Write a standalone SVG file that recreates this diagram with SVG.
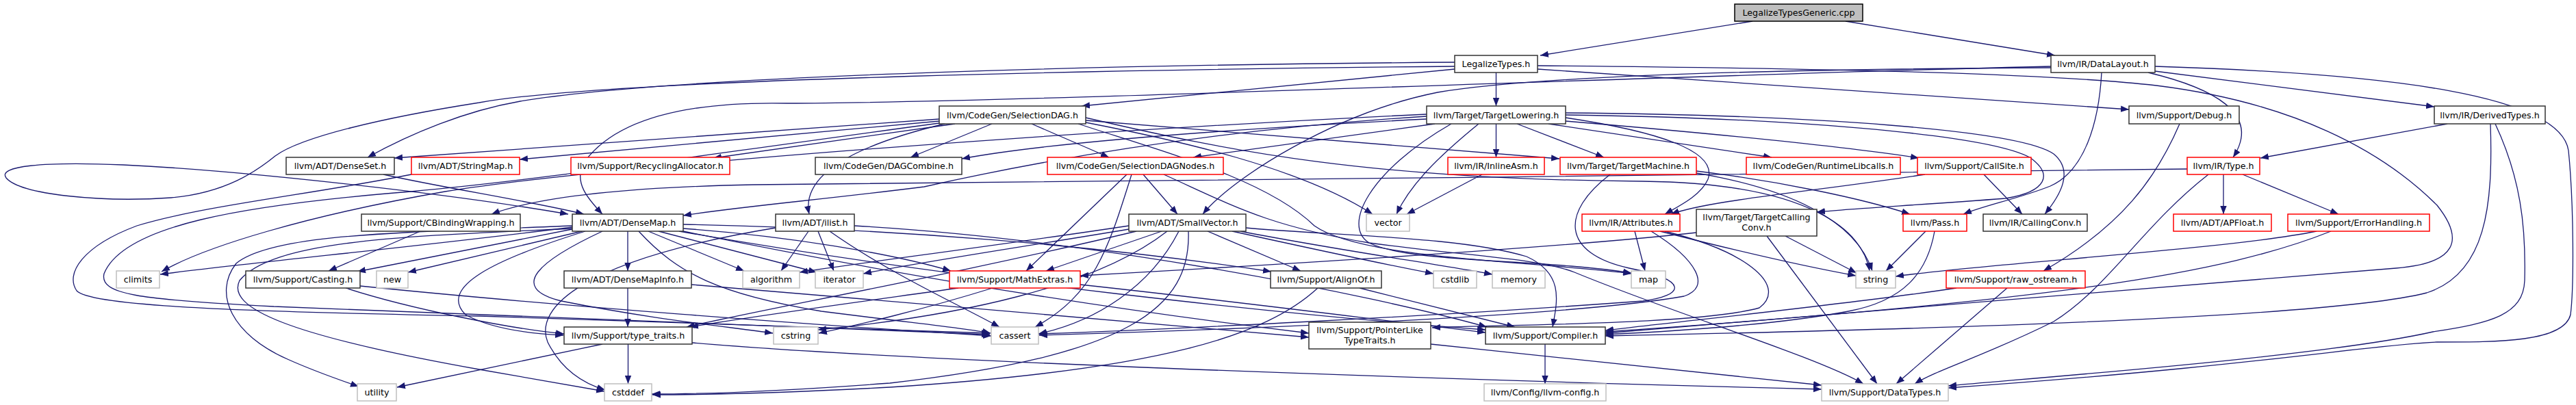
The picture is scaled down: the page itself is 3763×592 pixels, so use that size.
<svg xmlns="http://www.w3.org/2000/svg" width="3763" height="592" viewBox="0 0 3763 592">
<defs>
<style>
.e{fill:none;stroke:#191970;stroke-width:1.3;marker-end:url(#ah)}
rect{fill:#ffffff;stroke-width:1.5}
.k rect{stroke:#333333}
.r rect{stroke:#ff0000}
.g rect{stroke:#bfbfbf}
.root rect{fill:#bfbfbf;stroke:#000000}
text{font-family:"DejaVu Sans","Liberation Sans",Arial,sans-serif;font-size:12.7px;fill:#000000;text-anchor:middle}
</style>
<marker id="ah" markerUnits="userSpaceOnUse" markerWidth="12" markerHeight="10" viewBox="0 0 12 10" refX="12" refY="5" orient="auto">
<path d="M0,0.3 L12,5 L0,9.7 z" fill="#191970"/>
</marker>
</defs>
<rect x="0" y="0" width="3763" height="592" style="fill:#ffffff;stroke:none"/>
<g id="edges">
<path class="e" d="M2560,31 L2250,81"/>
<path class="e" d="M2696,31 L3002,81"/>
<path class="e" d="M2185.5,106 L2185.5,155"/>
<path class="e" d="M2125,101 L1580,155"/>
<path class="e" d="M2125,91 C1700,94 1000,108 760,148 C680,162 600,195 537,230"/>
<path class="e" d="M2125,97 C1700,101 900,114 700,150 C560,172 440,200 402,228 C375,250 330,282 250,289 C150,296 30,285 9,260 C-4,243 60,236 180,241 C350,249 650,282 830,313"/>
<path class="e" d="M2246,96 C2700,100 3000,108 3150,125 C3350,150 3480,220 3560,300 C3600,350 3590,385 3500,392 C3300,405 2600,468 2345,487"/>
<path class="e" d="M2246,101 L3110,160"/>
<path class="e" d="M2996,97 C2500,108 1500,150 1150,151 C1000,148 900,175 855,235 C835,265 860,292 880,313"/>
<path class="e" d="M2996,99 C2600,101 2250,110 2100,135 C1950,165 1800,260 1757,313"/>
<path class="e" d="M3148,104 L3556,156"/>
<path class="e" d="M3138,106 C3230,128 3305,165 3262,230"/>
<path class="e" d="M3070,106 C3066,180 3045,250 2995,272 C2950,290 2900,300 2868,313"/>
<path class="e" d="M3148,97 C3500,108 3740,140 3752,220 C3760,300 3760,420 3755,460 C3745,500 3650,500 3560,500 C3450,505 3300,535 2846,567"/>
<path class="e" d="M3575,181 L3302,231"/>
<path class="e" d="M3638,181 C3642,300 3632,400 3545,428 C3400,465 2800,482 2345,491"/>
<path class="e" d="M3645,181 C3682,260 3690,330 3688,410 C3686,460 3640,472 3554,485 C3400,520 3000,550 2846,564"/>
<path class="e" d="M3184,181 C3150,260 3100,330 2985,396"/>
<path class="e" d="M3195,247 C2700,257 1600,262 1100,270 C900,274 780,290 718,313"/>
<path class="e" d="M3248,255 L3248,313"/>
<path class="e" d="M3276,255 L3416,313"/>
<path class="e" d="M3226,255 C3130,330 3080,420 3000,470 C2900,520 2830,540 2797,561"/>
<path class="e" d="M3384,338 C3250,365 2900,385 2769,404"/>
<path class="e" d="M3405,338 C3250,400 3000,440 2345,485"/>
<path class="e" d="M2858,421 C2700,445 2450,470 2345,483"/>
<path class="e" d="M2932,421 L2770,561"/>
<path class="e" d="M2813,338 L2755,396"/>
<path class="e" d="M2826,338 C2815,400 2780,440 2700,455 C2600,474 2450,484 2345,489"/>
<path class="e" d="M2608,345 L2712,399"/>
<path class="e" d="M2581,345 L2742,561"/>
<path class="e" d="M2478,340 C2300,360 1900,385 1578,403"/>
<path class="e" d="M2812,255 C2650,280 2500,292 2441,313"/>
<path class="e" d="M2898,255 L2954,313"/>
<path class="e" d="M2165,255 L2055,313"/>
<path class="e" d="M2478,250 C2600,265 2720,290 2790,313"/>
<path class="e" d="M2478,253 C2610,275 2710,320 2735,396"/>
<path class="e" d="M2352,255 C2280,310 2280,370 2380,392 C2470,410 2460,432 2400,440 C2100,462 1700,482 1517,488"/>
<path class="e" d="M2185.5,181 L2185.5,230"/>
<path class="e" d="M2216,181 L2343,230"/>
<path class="e" d="M2262,181 L2588,230"/>
<path class="e" d="M2287,177 C2500,195 2700,215 2803,231"/>
<path class="e" d="M2287,172 C2420,192 2510,220 2495,262 C2485,285 2455,300 2432,313"/>
<path class="e" d="M2287,168 C2600,172 2900,195 2965,230 C3000,255 2990,280 2930,290 C2800,300 2700,305 2654,310"/>
<path class="e" d="M2287,165 C2650,168 2950,190 3000,225 C3030,250 3010,285 2987,313"/>
<path class="e" d="M2096,181 L1743,230"/>
<path class="e" d="M2084,174 C1850,186 1550,205 1405,232"/>
<path class="e" d="M2084,170 C1800,188 1550,228 1350,273 C1200,292 1080,302 998,315"/>
<path class="e" d="M2084,167 C1600,190 900,240 650,280 C450,315 300,360 236,397"/>
<path class="e" d="M2120,181 C2000,250 1960,330 2000,355 C2060,385 2250,378 2383,399"/>
<path class="e" d="M2160,181 C2100,230 2060,270 2040,313"/>
<path class="e" d="M1372,174 L576,231"/>
<path class="e" d="M1372,177 L759,233"/>
<path class="e" d="M1395,181 L1042,231"/>
<path class="e" d="M1449,181 L1330,230"/>
<path class="e" d="M1507,181 L1620,230"/>
<path class="e" d="M1380,181 C1250,212 1170,255 1182,313"/>
<path class="e" d="M1586,176 L2278,232"/>
<path class="e" d="M1586,179 C1720,205 1900,245 2005,313"/>
<path class="e" d="M1575,181 C1700,222 1850,262 1920,330 C1990,380 2250,382 2383,400"/>
<path class="e" d="M1586,172 C1800,222 2000,262 2400,265 C2650,268 2722,340 2731,396"/>
<path class="e" d="M1372,180 C1000,230 800,262 600,280 C350,300 180,330 152,400 C145,430 200,438 400,448 C800,465 1200,482 1446,489"/>
<path class="e" d="M601,255 C450,285 300,300 200,330 C120,360 95,400 112,425 C130,445 300,455 700,462 C1000,470 1300,482 1446,487"/>
<path class="e" d="M1670,255 L1720,313"/>
<path class="e" d="M1646,255 L1499,396"/>
<path class="e" d="M1653,255 C1620,360 1600,430 1512,478"/>
<path class="e" d="M1700,255 C1800,300 1850,330 2000,355 C2150,375 2250,378 2300,398 C2450,460 2650,520 2722,561"/>
<path class="e" d="M1649,330 C1450,360 1250,385 1168,398"/>
<path class="e" d="M1649,335 C1500,360 1350,382 1261,400"/>
<path class="e" d="M1697,338 L1528,396"/>
<path class="e" d="M1764,338 L1900,396"/>
<path class="e" d="M1800,338 C1900,360 2000,382 2094,400"/>
<path class="e" d="M1812,338 C1950,365 2100,386 2180,401"/>
<path class="e" d="M1722,338 C1680,420 1600,470 1517,488"/>
<path class="e" d="M1705,338 C1600,420 1400,462 1195,482"/>
<path class="e" d="M1736,338 C1740,450 1650,520 1300,560 C1100,575 1000,576 952,576"/>
<path class="e" d="M1660,338 C1400,400 1100,455 1003,478"/>
<path class="e" d="M1820,333 C1950,345 2130,345 2230,375 C2285,400 2275,440 2268,478"/>
<path class="e" d="M917,338 L917,396"/>
<path class="e" d="M947,338 L1087,396"/>
<path class="e" d="M962,338 L1193,398"/>
<path class="e" d="M850,338 L596,398"/>
<path class="e" d="M836,335 L522,397"/>
<path class="e" d="M836,332 C600,362 400,380 234,401"/>
<path class="e" d="M836,330 C600,340 400,340 345,385 C310,430 340,490 420,525 C460,543 495,555 524,565"/>
<path class="e" d="M836,334 C600,345 400,350 350,410 C330,450 420,490 700,540 C800,558 850,566 883,572"/>
<path class="e" d="M855,338 C720,380 640,420 680,460 C720,482 780,488 823,490"/>
<path class="e" d="M880,338 C790,380 740,420 820,440 C950,466 1050,476 1129,487"/>
<path class="e" d="M933,338 C990,400 1050,430 1200,455 C1350,474 1420,481 1447,487"/>
<path class="e" d="M998,334 C1150,345 1300,370 1389,396"/>
<path class="e" d="M998,328 C1300,334 1600,358 1857,397"/>
<path class="e" d="M998,338 C1300,400 1600,450 1912,487"/>
<path class="e" d="M992,338 C1400,410 1900,462 2170,482"/>
<path class="e" d="M560,255 C650,275 780,295 853,313"/>
<path class="e" d="M614,338 L480,396"/>
<path class="e" d="M505,421 C600,452 750,481 824,488"/>
<path class="e" d="M526,418 C800,446 1200,476 1448,491"/>
<path class="e" d="M917,421 L917,478"/>
<path class="e" d="M1010,416 C1300,440 1650,470 1912,493"/>
<path class="e" d="M1181,338 L1141,396"/>
<path class="e" d="M1195,338 L1218,396"/>
<path class="e" d="M1212,338 C1300,400 1400,445 1460,478"/>
<path class="e" d="M1133,333 C850,380 780,450 800,500 C820,540 850,560 884,570"/>
<path class="e" d="M1248,330 C1600,350 2000,430 2172,478"/>
<path class="e" d="M1400,421 C1250,442 1100,462 1008,478"/>
<path class="e" d="M1450,421 C1350,452 1250,476 1196,487"/>
<path class="e" d="M1578,416 C1800,440 2000,466 2170,486"/>
<path class="e" d="M1986,421 L2213,478"/>
<path class="e" d="M1925,421 C1850,490 1700,540 1300,566 C1100,577 1000,577 953,577"/>
<path class="e" d="M880,503 L580,566"/>
<path class="e" d="M917.5,503 L917.5,561"/>
<path class="e" d="M1011,501 C1300,526 2000,552 2661,569"/>
<path class="e" d="M2090,503 L2661,563"/>
<path class="e" d="M2257,503 L2257,561"/>
<path class="e" d="M2388,338 L2403,396"/>
<path class="e" d="M2425,338 C2550,370 2650,392 2711,403"/>
<path class="e" d="M2412,338 C2480,380 2500,420 2460,433 C2300,462 1800,482 1518,490"/>
<path class="e" d="M2432,338 C2560,370 2610,420 2570,450 C2480,475 2200,474 2092,479"/>
</g>
<g id="n_cpp" class="root"><rect x="2534" y="6" width="187" height="25"/><text x="2627.5" y="23">LegalizeTypesGeneric.cpp</text></g>
<g id="n_legalizetypes" class="k"><rect x="2125" y="81" width="121" height="25"/><text x="2185.5" y="98">LegalizeTypes.h</text></g>
<g id="n_datalayout" class="k"><rect x="2996" y="81" width="152" height="25"/><text x="3072" y="98">llvm/IR/DataLayout.h</text></g>
<g id="n_selectiondag" class="k"><rect x="1372" y="155" width="214" height="26"/><text x="1479" y="173">llvm/CodeGen/SelectionDAG.h</text></g>
<g id="n_targetlowering" class="k"><rect x="2084" y="155" width="203" height="26"/><text x="2185.5" y="173">llvm/Target/TargetLowering.h</text></g>
<g id="n_debug" class="k"><rect x="3110" y="155" width="161" height="26"/><text x="3190.5" y="173">llvm/Support/Debug.h</text></g>
<g id="n_derivedtypes" class="k"><rect x="3556" y="155" width="162" height="26"/><text x="3637" y="173">llvm/IR/DerivedTypes.h</text></g>
<g id="n_denseset" class="k"><rect x="418" y="230" width="158" height="25"/><text x="497" y="247">llvm/ADT/DenseSet.h</text></g>
<g id="n_stringmap" class="r"><rect x="601" y="230" width="158" height="25"/><text x="680" y="247">llvm/ADT/StringMap.h</text></g>
<g id="n_recycling" class="r"><rect x="834" y="230" width="232" height="25"/><text x="950" y="247">llvm/Support/RecyclingAllocator.h</text></g>
<g id="n_dagcombine" class="k"><rect x="1191" y="230" width="214" height="25"/><text x="1298" y="247">llvm/CodeGen/DAGCombine.h</text></g>
<g id="n_sdnodes" class="r"><rect x="1530" y="230" width="257" height="25"/><text x="1658.5" y="247">llvm/CodeGen/SelectionDAGNodes.h</text></g>
<g id="n_inlineasm" class="r"><rect x="2115" y="230" width="141" height="25"/><text x="2185.5" y="247">llvm/IR/InlineAsm.h</text></g>
<g id="n_targetmachine" class="r"><rect x="2279" y="230" width="199" height="25"/><text x="2378.5" y="247">llvm/Target/TargetMachine.h</text></g>
<g id="n_runtimelibcalls" class="r"><rect x="2551" y="230" width="225" height="25"/><text x="2663.5" y="247">llvm/CodeGen/RuntimeLibcalls.h</text></g>
<g id="n_callsite" class="r"><rect x="2801" y="230" width="166" height="25"/><text x="2884" y="247">llvm/Support/CallSite.h</text></g>
<g id="n_type" class="r"><rect x="3195" y="230" width="106" height="25"/><text x="3248" y="247">llvm/IR/Type.h</text></g>
<g id="n_cbinding" class="k"><rect x="528" y="313" width="232" height="25"/><text x="644" y="330">llvm/Support/CBindingWrapping.h</text></g>
<g id="n_densemap" class="k"><rect x="836" y="313" width="162" height="25"/><text x="917" y="330">llvm/ADT/DenseMap.h</text></g>
<g id="n_ilist" class="k"><rect x="1133" y="313" width="115" height="25"/><text x="1190.5" y="330">llvm/ADT/ilist.h</text></g>
<g id="n_smallvector" class="k"><rect x="1649" y="313" width="171" height="25"/><text x="1734.5" y="330">llvm/ADT/SmallVector.h</text></g>
<g id="n_vector" class="g"><rect x="1996" y="313" width="63" height="25"/><text x="2027.5" y="330">vector</text></g>
<g id="n_attributes" class="r"><rect x="2311" y="313" width="143" height="25"/><text x="2382.5" y="330">llvm/IR/Attributes.h</text></g>
<g id="n_targetcallingconv" class="k"><rect x="2478" y="306" width="176" height="39"/><text x="2566" y="322">llvm/Target/TargetCalling</text><text x="2566" y="337">Conv.h</text></g>
<g id="n_pass" class="r"><rect x="2780" y="313" width="93" height="25"/><text x="2826.5" y="330">llvm/Pass.h</text></g>
<g id="n_callingconv" class="k"><rect x="2897" y="313" width="152" height="25"/><text x="2973" y="330">llvm/IR/CallingConv.h</text></g>
<g id="n_apfloat" class="r"><rect x="3175" y="313" width="143" height="25"/><text x="3246.5" y="330">llvm/ADT/APFloat.h</text></g>
<g id="n_errorhandling" class="r"><rect x="3342" y="313" width="207" height="25"/><text x="3445.5" y="330">llvm/Support/ErrorHandling.h</text></g>
<g id="n_climits" class="g"><rect x="170" y="396" width="63" height="25"/><text x="201.5" y="413">climits</text></g>
<g id="n_casting" class="k"><rect x="359" y="396" width="167" height="25"/><text x="442.5" y="413">llvm/Support/Casting.h</text></g>
<g id="n_new" class="g"><rect x="550" y="396" width="46" height="25"/><text x="573" y="413">new</text></g>
<g id="n_densemapinfo" class="k"><rect x="824" y="396" width="186" height="25"/><text x="917" y="413">llvm/ADT/DenseMapInfo.h</text></g>
<g id="n_algorithm" class="g"><rect x="1085" y="396" width="83" height="25"/><text x="1126.5" y="413">algorithm</text></g>
<g id="n_iterator" class="g"><rect x="1191" y="396" width="70" height="25"/><text x="1226" y="413">iterator</text></g>
<g id="n_mathextras" class="r"><rect x="1387" y="396" width="191" height="25"/><text x="1482.5" y="413">llvm/Support/MathExtras.h</text></g>
<g id="n_alignof" class="k"><rect x="1856" y="396" width="162" height="25"/><text x="1937" y="413">llvm/Support/AlignOf.h</text></g>
<g id="n_cstdlib" class="g"><rect x="2094" y="396" width="63" height="25"/><text x="2125.5" y="413">cstdlib</text></g>
<g id="n_memory" class="g"><rect x="2180" y="396" width="77" height="25"/><text x="2218.5" y="413">memory</text></g>
<g id="n_map" class="g"><rect x="2383" y="396" width="50" height="25"/><text x="2408" y="413">map</text></g>
<g id="n_string" class="g"><rect x="2711" y="396" width="58" height="25"/><text x="2740" y="413">string</text></g>
<g id="n_rawostream" class="r"><rect x="2843" y="396" width="203" height="25"/><text x="2944.5" y="413">llvm/Support/raw_ostream.h</text></g>
<g id="n_typetraits" class="k"><rect x="824" y="478" width="187" height="25"/><text x="917.5" y="495">llvm/Support/type_traits.h</text></g>
<g id="n_cstring" class="g"><rect x="1130" y="478" width="65" height="25"/><text x="1162.5" y="495">cstring</text></g>
<g id="n_cassert" class="g"><rect x="1448" y="478" width="69" height="25"/><text x="1482.5" y="495">cassert</text></g>
<g id="n_pointerlike" class="k"><rect x="1912" y="471" width="178" height="39"/><text x="2001" y="487">llvm/Support/PointerLike</text><text x="2001" y="502">TypeTraits.h</text></g>
<g id="n_compiler" class="k"><rect x="2170" y="478" width="175" height="25"/><text x="2257.5" y="495">llvm/Support/Compiler.h</text></g>
<g id="n_utility" class="g"><rect x="522" y="561" width="57" height="25"/><text x="550.5" y="578">utility</text></g>
<g id="n_cstddef" class="g"><rect x="883" y="561" width="69" height="25"/><text x="917.5" y="578">cstddef</text></g>
<g id="n_llvmconfig" class="g"><rect x="2168" y="561" width="178" height="25"/><text x="2257" y="578">llvm/Config/llvm-config.h</text></g>
<g id="n_datatypes" class="g"><rect x="2661" y="561" width="185" height="25"/><text x="2753.5" y="578">llvm/Support/DataTypes.h</text></g>
</svg>
